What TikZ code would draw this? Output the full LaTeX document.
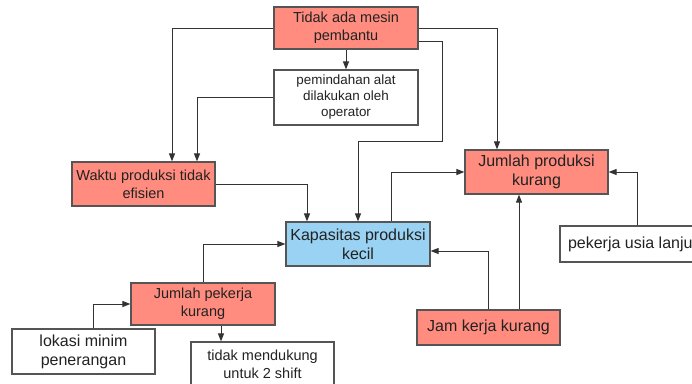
\documentclass[tikz,border=0pt]{standalone}
\usepackage{fontspec}
\setmainfont{Liberation Sans}
\usetikzlibrary{arrows.meta}
\definecolor{redbox}{HTML}{FF8C7F}
\definecolor{bluebox}{HTML}{99D2F2}
\definecolor{edge}{HTML}{555555}
\definecolor{txt}{HTML}{222222}
\tikzset{
  box/.style={draw=edge, line width=1.2pt, rectangle, inner sep=0pt, align=center, text=txt},
  redb/.style={box, fill=redbox},
  blueb/.style={box, fill=bluebox},
  whiteb/.style={box, fill=white},
  fA/.style={font=\fontsize{14.5}{18}\selectfont},
  fB/.style={font=\fontsize{16}{19}\selectfont},
  fC/.style={font=\fontsize{13.4}{16}\selectfont},
  arr/.style={draw=black!80, line width=1pt, -{Triangle[length=8pt,width=6pt]}}
}
\begin{document}
\begin{tikzpicture}[x=1pt,y=-1pt]
\useasboundingbox (0,0) rectangle (692,383);
\clip (0,0) rectangle (692,383);
\fill[white] (0,0) rectangle (692,383);
\node[redb, fA, minimum width=144pt, minimum height=42pt] (tidak) at (346,28) {Tidak ada mesin\\pembantu};
\node[whiteb, fC, minimum width=144pt, minimum height=55pt] (pemind) at (346,97.5) {pemindahan alat\\dilakukan oleh\\operator};
\node[redb, fA, minimum width=143pt, minimum height=44pt] (waktu) at (143.5,184) {Waktu produksi tidak\\efisien};
\node[blueb, fB, minimum width=144pt, minimum height=44pt] (kap) at (358,244) {Kapasitas produksi\\kecil};
\node[redb, fB, minimum width=143pt, minimum height=44pt] (jprod) at (536.5,172) {Jumlah produksi\\kurang};
\node[whiteb, fB, minimum width=145pt, minimum height=36pt] (usia) at (632.5,244) {pekerja usia lanjut};
\node[redb, fB, minimum width=143pt, minimum height=35pt] (jam) at (488.5,327.5) {Jam kerja kurang};
\node[redb, fA, minimum width=144pt, minimum height=42pt] (jpek) at (203,304) {Jumlah pekerja\\kurang};
\node[whiteb, fB, minimum width=143pt, minimum height=45pt] (lokasi) at (83.5,351.5) {lokasi minim\\penerangan};
\node[whiteb, fA, minimum width=143pt, minimum height=44pt] (mend) at (262.5,364) {tidak mendukung\\untuk 2 shift};

\draw[arr] (tidak.west) -| ([xshift=28.5pt]waktu.north);
\draw[arr] (tidak.south) -- (pemind.north);
\draw[arr] (pemind.west) -| ([xshift=53.5pt]waktu.north);
\draw[arr] (tidak.east) -| ([xshift=-39.5pt]jprod.north);
\draw[arr] ([yshift=-13pt]tidak.east) -| ([xshift=84pt,yshift=80pt]kap.north) -| (kap.north);
\draw[arr] (waktu.east) -| ([xshift=-51pt]kap.north);
\draw[arr] ([xshift=33pt]kap.north) |- (jprod.west);
\draw[arr] ([xshift=4.5pt]usia.north) |- (jprod.east);
\draw[arr] ([xshift=30.5pt]jam.north) -- ([xshift=-17.5pt]jprod.south);
\draw[arr] (jam.north) |- ([yshift=-7pt]kap.east);
\draw[arr] (jpek.north) |- (kap.west);
\draw[arr] ([xshift=9.5pt]lokasi.north) |- (jpek.west);
\draw[arr] ([xshift=18pt]jpek.south) -- ([xshift=-41.5pt]mend.north);
\end{tikzpicture}
\end{document}
